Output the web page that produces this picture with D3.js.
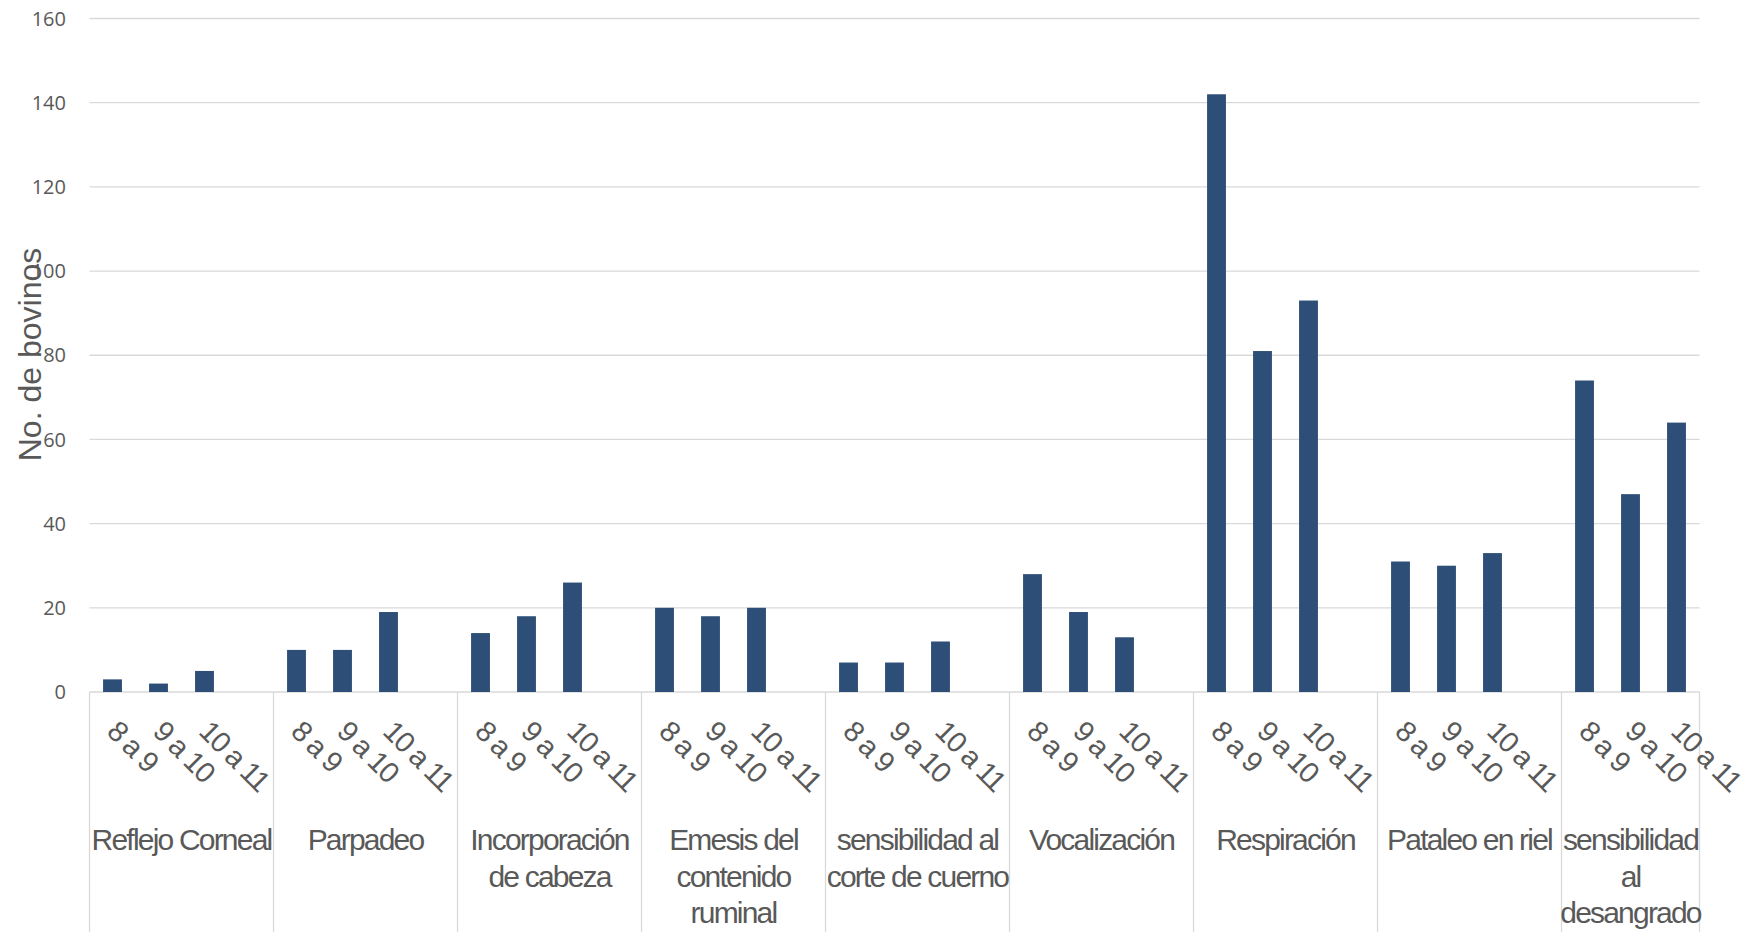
<!DOCTYPE html>
<html>
<head>
<meta charset="utf-8">
<script src="https://cdn.jsdelivr.net/npm/d3@7"></script>
<style>
  body { margin: 0; background: #fff; }
  svg { display: block; }
</style>
</head>
<body>
<div id="chart"></div>
<script>
// categories (line breaks as in the original wrapped labels)
const categories = [
    "Reflejo Corneal",
    "Parpadeo",
    "Incorporación\nde cabeza",
    "Emesis del\ncontenido\nruminal",
    "sensibilidad al\ncorte de cuerno",
    "Vocalización",
    "Respiración",
    "Pataleo en riel",
    "sensibilidad\nal\ndesangrado"
];
const periods = ["8 a 9", "9 a 10", "10 a 11"];
const values8a9   = [3, 10, 14, 20, 7, 28, 142, 31, 74];
const values9a10  = [2, 10, 18, 18, 7, 19, 81, 30, 47];
const values10a11 = [5, 19, 26, 20, 12, 13, 93, 33, 64];
const yTicks = [0, 20, 40, 60, 80, 100, 120, 140, 160];
const yTitle = "No. de bovinos";

const W = 1761, H = 932;
const plotLeft = 89.5, plotRight = 1699.5, plotTop = 18.5, plotBottom = 692;
const grey = "#595959", lineCol = "#d9d9d9", barCol = "#2d4e76";

const svg = d3.select("#chart").append("svg")
    .attr("width", W)
    .attr("height", H);

// flat slot list: 4 slots per category (last slot empty), except the last category
const series = [values8a9, values9a10, values10a11];
const rows = [];
categories.forEach((c, i) => {
    periods.forEach((p, j) => rows.push({ cat: i, period: p, value: series[j][i], slot: i * 4 + j }));
});
const slotCount = categories.length * 4 - 1;

const x = d3.scaleBand()
    .domain(d3.range(slotCount))
    .range([plotLeft, plotRight])
    .paddingInner(0.59)
    .paddingOuter(0.295);
const step = x.step();
const slotLeft = k => x(k) - step * x.paddingOuter();
const slotCenter = k => x(k) + x.bandwidth() / 2;

const y = d3.scaleLinear()
    .domain([0, 160])
    .range([plotBottom, plotTop]);

// gridlines
svg.append("g").selectAll("line")
    .data(yTicks)
    .join("line")
    .attr("x1", plotLeft).attr("x2", plotRight)
    .attr("y1", d => y(d)).attr("y2", d => y(d))
    .attr("stroke", lineCol)
    .attr("stroke-width", 1.3);

// y tick labels
svg.append("g").selectAll("text")
    .data(yTicks)
    .join("text")
    .attr("x", 66)
    .attr("y", d => y(d))
    .attr("dy", "0.36em")
    .attr("text-anchor", "end")
    .attr("font-family", "'Open Sans', sans-serif")
    .attr("font-size", 20)
    .attr("fill", grey)
    .text(d => d);

// bars
svg.append("g").selectAll("rect")
    .data(rows)
    .join("rect")
    .attr("x", d => x(d.slot))
    .attr("width", x.bandwidth())
    .attr("y", d => y(d.value))
    .attr("height", d => y(0) - y(d.value))
    .attr("fill", barCol);

// group separators below the axis
const bounds = categories.map((c, i) => slotLeft(i * 4)).concat([plotRight]);
svg.append("g").selectAll("line")
    .data(bounds)
    .join("line")
    .attr("x1", d => d).attr("x2", d => d)
    .attr("y1", plotBottom).attr("y2", H)
    .attr("stroke", lineCol)
    .attr("stroke-width", 1.3);

// rotated period labels
svg.append("g").selectAll("text")
    .data(rows)
    .join("text")
    .attr("transform", d => `translate(${slotCenter(d.slot) - 7},733) rotate(45)`)
    .attr("font-family", "'Liberation Sans', Arial, sans-serif")
    .attr("font-size", 29)
    .attr("letter-spacing", -1.4)
    .attr("fill", grey)
    .text(d => d.period);

// category labels
const catG = svg.append("g").selectAll("text")
    .data(categories)
    .join("text")
    .attr("x", (d, i) => (bounds[i] + bounds[i + 1]) / 2)
    .attr("y", 850)
    .attr("text-anchor", "middle")
    .attr("font-family", "'Liberation Sans', Arial, sans-serif")
    .attr("font-size", 30)
    .attr("letter-spacing", -1.8)
    .attr("fill", grey);

catG.each(function(d, i) {
    const cx = (bounds[i] + bounds[i + 1]) / 2;
    d3.select(this).selectAll("tspan")
        .data(d.split("\n"))
        .join("tspan")
        .attr("x", cx)
        .attr("dy", (t, k) => k === 0 ? 0 : 36.5)
        .text(t => t);
});

// y axis title
svg.append("text")
    .attr("transform", "translate(40.5,354.5) rotate(-90)")
    .attr("text-anchor", "middle")
    .attr("font-family", "'Liberation Sans', Arial, sans-serif")
    .attr("font-size", 32)
    .attr("fill", grey)
    .text(yTitle);
</script>
</body>
</html>
